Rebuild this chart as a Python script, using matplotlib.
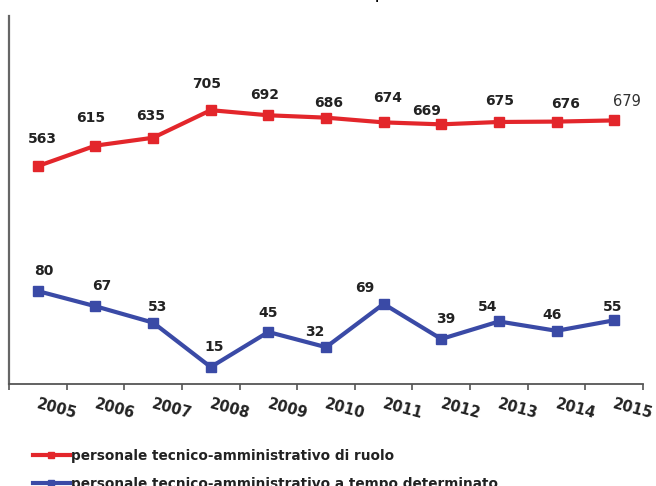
import numpy as np
import matplotlib.pyplot as plt
from matplotlib.transforms import blended_transform_factory

# data
years = ["2005", "2006", "2007", "2008", "2009", "2010",
         "2011", "2012", "2013", "2014", "2015"]
ruolo = [563, 615, 635, 705, 692, 686, 674, 669, 675, 676, 679]
determinato = [80, 67, 53, 15, 45, 32, 69, 39, 54, 46, 55]

label_ruolo = "personale tecnico-amministrativo di ruolo"
label_det = "personale tecnico-amministrativo a tempo determinato"
title = "Personale tecnico-amministrativo a tempo determinato"

# label offsets above each marker (pixels)
red_off = [(5, 27), (-5, 28), (-2, 22), (-4, 26), (-4, 20), (3, 15),
           (4, 24), (-15, 13), (1, 21), (9, 18), (13, 19)]
blue_off = [(6, 20), (6, 20), (4, 16), (3, 20), (0, 19), (-11, 15),
            (-19, 16), (4, 20), (-11, 14), (-4, 16), (-2, 13)]

red = "#e3262b"
blue = "#3a4aa6"
px = 0.72  # pixels -> points at 100 dpi

fig = plt.figure(figsize=(6.56, 4.86), dpi=100)
ax = fig.add_axes([9/656, 102/486, 634/656, 368/486])
ax2 = ax.twinx()

x = np.arange(len(years))

lb, = ax.plot(x, determinato, color=blue, lw=3, marker="s", ms=7.5,
              solid_joinstyle="miter", label=label_det)
lr, = ax2.plot(x, ruolo, color=red, lw=3, marker="s", ms=7.5,
               solid_joinstyle="miter", label=label_ruolo)

ax.set_xlim(-0.5, 10.5)
ax.set_ylim(0.5, 315.3)
ax2.set_ylim(10, 944)

# value labels
for i, v in enumerate(determinato):
    dx, dy = blue_off[i]
    ax.annotate(str(v), (i, v), xytext=(dx * px, dy * px), textcoords="offset points",
                ha="center", va="center", fontsize=10, fontweight="bold", color="#222222")
for i, v in enumerate(ruolo):
    dx, dy = red_off[i]
    last = i == len(ruolo) - 1
    ax2.annotate(str(v), (i, v), xytext=(dx * px, dy * px), textcoords="offset points",
                 ha="center", va="center", fontsize=10.5 if last else 10,
                 fontweight="normal" if last else "bold", color="#333333" if last else "#222222")

# axes styling
for a in (ax, ax2):
    a.set_yticks([])
    for s in ("top", "right"):
        a.spines[s].set_visible(False)
ax2.spines["left"].set_visible(False)
ax2.spines["bottom"].set_visible(False)
ax.spines["left"].set_color("#666666")
ax.spines["left"].set_linewidth(1.6)
ax.spines["bottom"].set_color("#555555")
ax.spines["bottom"].set_linewidth(1.3)

ax.set_xticks(np.arange(-0.5, 11, 1))
ax.set_xticklabels([])
ax.tick_params(axis="x", direction="out", length=4, width=1.2, color="#555555")

trans = blended_transform_factory(ax.transData, ax.transAxes)
for i, yr in enumerate(years):
    ax.annotate(yr, (i, 0), xycoords=trans, xytext=(19 * px, -25 * px),
                textcoords="offset points", ha="center", va="center",
                rotation=-15, fontsize=10.5, fontweight="bold", color="#222222")

# title, cut off at the top of the image as in the source
fig.text(0.46, 1.0 + 0.5 / 486, title, ha="center", va="baseline",
         fontsize=9, fontweight="bold", family="Liberation Sans")

# legend
leg = fig.legend(handles=[lr, lb], loc="upper left", bbox_to_anchor=(33/656, 1 - 449/486),
                 frameon=False, borderpad=0, borderaxespad=0, handlelength=2.7,
                 handletextpad=0.1, labelspacing=1.0, markerscale=0.6,
                 prop={"size": 9.8, "weight": "bold"})
for t in leg.get_texts():
    t.set_color("#222222")

fig.savefig("out.png", dpi=100)
